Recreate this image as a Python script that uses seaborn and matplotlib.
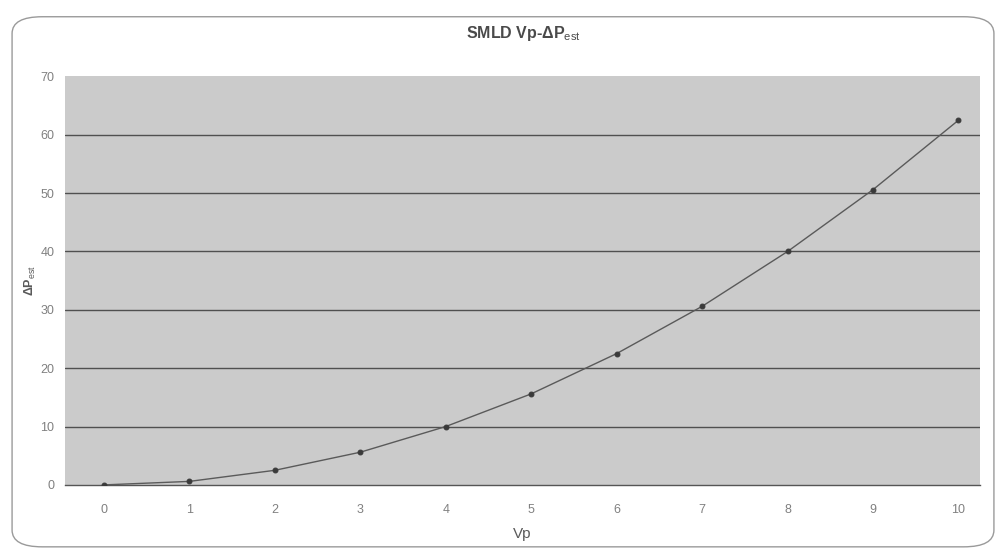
import matplotlib
matplotlib.use("Agg")
import matplotlib.pyplot as plt
import seaborn as sns
import pandas as pd
from matplotlib.patches import FancyBboxPatch

# Data
vp = [0, 1, 2, 3, 4, 5, 6, 7, 8, 9, 10]
dp_est = [0.0, 0.6, 2.5, 5.6, 10.0, 15.6, 22.5, 30.6, 40.0, 50.6, 62.5]
x_ticks = [0, 1, 2, 3, 4, 5, 6, 7, 8, 9, 10]
y_ticks = [0, 10, 20, 30, 40, 50, 60, 70]

df = pd.DataFrame({"Vp": vp, "dP": dp_est})

sns.set_theme(style="white")
plt.rcParams["font.family"] = ["Liberation Sans", "DejaVu Sans"]
plt.rcParams["mathtext.fontset"] = "custom"
plt.rcParams["mathtext.rm"] = "Liberation Sans"
plt.rcParams["mathtext.it"] = "Liberation Sans"
plt.rcParams["mathtext.bf"] = "Liberation Sans:bold"

fig = plt.figure(figsize=(10.06, 5.58), dpi=100)
fig.patch.set_facecolor("white")

# rounded frame of the printed chart
frame = FancyBboxPatch((0.012, 0.02), 0.976, 0.95,
                       boxstyle="round,pad=0,rounding_size=0.03",
                       transform=fig.transFigure, facecolor="none",
                       edgecolor="#9a9a9a", linewidth=1.0)
fig.patches.append(frame)

ax = fig.add_axes([0.065, 0.131, 0.909, 0.732])
ax.set_facecolor("#cbcbcb")

for y in y_ticks[1:-1]:
    ax.axhline(y, color="#505050", linewidth=1.0, zorder=1)

sns.lineplot(data=df, x="Vp", y="dP", ax=ax, color="#5a5a5a", linewidth=1.0,
             marker="o", markersize=3.5, markerfacecolor="#3a3a3a",
             markeredgecolor="#3a3a3a", zorder=3)

ax.set_xlim(-0.45, 10.25)
ax.set_ylim(0, 70)
ax.set_xticks(x_ticks)
ax.set_yticks(y_ticks)
ax.tick_params(axis="both", length=0, labelsize=9, colors="#808080", pad=14)
ax.tick_params(axis="y", pad=8)

for side in ["top", "right", "left"]:
    ax.spines[side].set_visible(False)
ax.spines["bottom"].set_color("#555555")
ax.spines["bottom"].set_linewidth(1.0)

ax.set_xlabel("Vp", fontsize=11, color="#5a5a5a", labelpad=8)
ax.set_ylabel(r"ΔP$_{\mathrm{est}}$", fontsize=9, color="#5a5a5a",
              fontweight="bold", labelpad=2)

fig.text(0.52, 0.94, r"SMLD Vp-ΔP$_{\mathrm{est}}$", ha="center", va="center",
         fontsize=11.5, color="#4a4a4a", fontweight="bold")

fig.savefig("out.png", dpi=100, facecolor="white")
